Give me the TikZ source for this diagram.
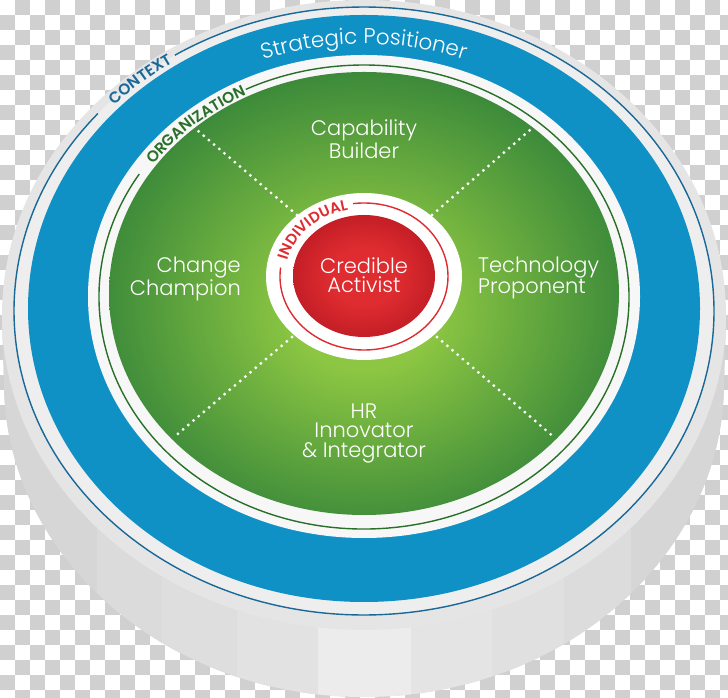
\documentclass[tikz,border=0pt]{standalone}
\usepackage{fontspec}
\IfFontExistsTF{Poppins Light}
  {\setmainfont{Poppins Light}[BoldFont=Poppins SemiBold]}
  {\setmainfont{Poppins}}
\usetikzlibrary{decorations.text,calc}

\definecolor{ringblue}{RGB}{16,145,197}
\definecolor{lineblue}{RGB}{24,104,152}
\definecolor{leafgreen}{RGB}{140,198,66}
\definecolor{deepgreen}{RGB}{60,138,58}
\definecolor{linegreen}{RGB}{40,112,42}
\definecolor{corered}{RGB}{222,44,48}
\definecolor{coredark}{RGB}{196,30,38}
\definecolor{rimgray}{RGB}{229,229,229}
\definecolor{bandgray}{RGB}{238,238,238}
\definecolor{checkgray}{RGB}{208,208,208}

\pgfdeclareradialshading{greenglow}{\pgfpoint{0bp}{-2bp}}{color(0bp)=(leafgreen); color(7bp)=(leafgreen); color(26bp)=(deepgreen); color(50bp)=(deepgreen)}
\pgfdeclareradialshading{redglow}{\pgfpoint{0bp}{0bp}}{color(0bp)=(corered); color(12bp)=(corered); color(25bp)=(coredark); color(50bp)=(coredark)}

\tikzset{
  role/.style={text=white, inner sep=0pt, font=\fontsize{21}{19.5}\selectfont},
  divider/.style={white, line width=3.2pt, line cap=round, dash pattern=on 0pt off 6.8pt},
  ringline/.style={line width=1.4pt},
}

\begin{document}
\begin{tikzpicture}[x=1pt,y=1pt]
  \useasboundingbox (0,0) rectangle (728,698);
  % transparency checker
  \begin{scope}
    \clip (0,0) rectangle (728,698);
    \foreach \i in {0,...,48}
      \foreach \j in {0,...,46}
        {\ifodd\numexpr\i+\j\relax \fill[checkgray] (\i*15,698-\j*15) rectangle ++(15,-15);\fi}
  \end{scope}

  % side of the disc
  \def\sidepath{(2,383) -- (4,316) arc[start angle=180,end angle=360,x radius=360,y radius=315] -- (726,383) -- cycle}
  \fill[rimgray!92!black] \sidepath;
  \begin{scope}
    \clip \sidepath;
    \foreach \xa/\xb/\g in {0/97/214,97/162/219,162/237/222,237/318/226,318/411/236,411/492/228,492/564/224,564/631/220,631/728/214}
      {\definecolor{panel}{RGB}{\g,\g,\g}\fill[panel] (\xa,0) rectangle (\xb,400);}
  \end{scope}

  % top face
  \fill[rimgray] (364,383) ellipse[x radius=362,y radius=315];
  \fill[bandgray] (364,387) ellipse[x radius=350,y radius=304];
  \fill[ringblue] (364,389.5) ellipse[x radius=336,y radius=293.5];
  \fill[white!97!black] (364,401.5) ellipse[x radius=276,y radius=241.5];
  \shade[shading=greenglow] (364,404.5) ellipse[x radius=255,y radius=221.5];

  % ring lines, open where the ring names sit
  \draw[lineblue,ringline] ($(364,387)+(139.5:350 and 304)$) arc[start angle=139.5,end angle=482.7,x radius=350,y radius=304];
  \draw[linegreen,ringline] ($(364,401)+(148:265 and 232)$) arc[start angle=148,end angle=476.5,x radius=265,y radius=232];

  % dividers
  \coordinate (ulIn) at (297,483);  \coordinate (ulOut) at (197,568);
  \coordinate (urIn) at (432,483);  \coordinate (urOut) at (530,568);
  \coordinate (llIn) at (292,361);  \coordinate (llOut) at (173,260);
  \coordinate (lrIn) at (437,361);  \coordinate (lrOut) at (555,260);
  \draw[divider] (ulIn) -- (ulOut);
  \draw[divider] (urIn) -- (urOut);
  \draw[divider] (llIn) -- (llOut);
  \draw[divider] (lrIn) -- (lrOut);

  % core
  \fill[white] (364,421.5) ellipse[x radius=98,y radius=83.5];
  \draw[corered,ringline] ($(364,421.5)+(173:84 and 73.5)$) arc[start angle=173,end angle=457.5,x radius=84,y radius=73.5];
  \shade[shading=redglow] (364,422) ellipse[x radius=71,y radius=61];

  % curved names
  \path[decorate,decoration={text along path,text align=center,
      text={|\color{white}\fontsize{21.5}{22}\selectfont|Strategic Positioner}}]
    ($(364,398.2)+(125:292.5 and 255.8)$) arc[start angle=125,end angle=55,x radius=292.5,y radius=255.8];
  \path[decorate,decoration={text along path,text align=center,
      text={|\color{lineblue}\bfseries\fontsize{15.5}{16}\selectfont|CONTEXT}}]
    ($(364,387)+(161:344.5 and 298.5)$) arc[start angle=161,end angle=101,x radius=344.5,y radius=298.5];
  \path[decorate,decoration={text along path,text align=center,
      text={|\color{linegreen}\bfseries\fontsize{15.5}{16}\selectfont|ORGANIZATION}}]
    ($(364,401)+(172:259.5 and 226.5)$) arc[start angle=172,end angle=92,x radius=259.5,y radius=226.5];
  \path[decorate,decoration={text along path,text align=center,
      text={|\color{corered}\bfseries\fontsize{15}{16}\selectfont|INDIVIDUAL}}]
    ($(364,421.5)+(180:78.5 and 68)$) arc[start angle=180,end angle=90,x radius=78.5,y radius=68];

  % roles
  \node[role,align=center] (capability) at (364,558.7) {Capability\\Builder};
  \node[role,align=right,anchor=east] (change) at (241,419) {Change\\Champion};
  \node[role,align=left,anchor=west] (technology) at (478,420) {Technology\\Proponent};
  \node[role,align=center] (credible) at (364,423) {Credible\\Activist};
  \node[role,align=center] (innovator) at (364,265) {HR\\Innovator\\\& Integrator};
\end{tikzpicture}
\end{document}
